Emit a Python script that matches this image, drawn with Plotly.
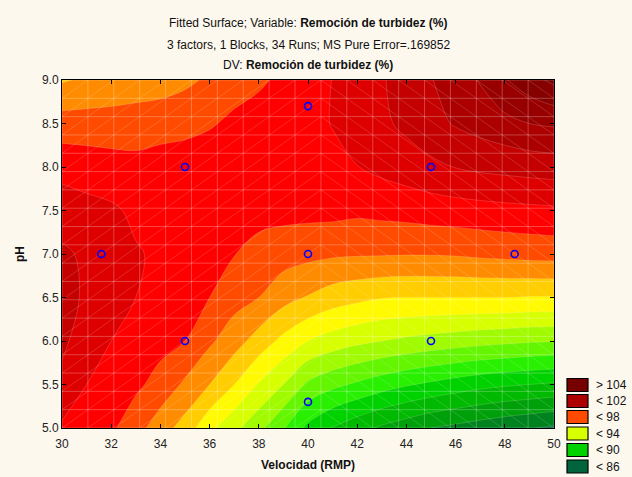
import numpy as np
import plotly.graph_objects as go

# ---------------- data ----------------
velocidad = [30, 31, 32, 33, 34, 35, 36, 37, 38, 39, 40, 41, 42, 43, 44, 45, 46, 47, 48, 49, 50]
ph = [5.0, 5.5, 6.0, 6.5, 7.0, 7.5, 8.0, 8.5, 9.0]
# fitted surface, estimated from the colour bands (one list per pH row, across velocidad)
z_ph50 = [98.85, 98.64, 98.18, 97.4, 96.45, 95.6, 94.25, 93.27, 92.3, 91.1, 89.75,
          88.94, 88.35, 87.83, 87.42, 87.0, 86.75, 86.5, 86.25, 86.05, 85.85]
z_ph55 = [99.75, 99.0, 98.6, 98.2, 97.65, 96.83, 96.0, 95.0, 93.93, 93.0, 91.8,
          91.25, 90.85, 90.45, 90.1, 89.82, 89.55, 89.3, 89.13, 89.0, 88.87]
z_ph60 = [100.2, 99.5, 99.0, 98.6, 98.3, 98.0, 97.17, 96.43, 95.57, 94.73, 94.0,
          93.55, 93.23, 93.0, 92.8, 92.63, 92.47, 92.33, 92.22, 92.1, 92.05]
z_ph65 = [100.35, 99.85, 99.35, 99.0, 98.65, 98.45, 98.0, 97.38, 97.0, 96.35, 95.93,
          95.5, 95.25, 95.05, 95.0, 95.0, 95.0, 95.0, 95.0, 94.95, 94.95]
z_ph70 = [100.15, 99.85, 99.45, 99.08, 98.85, 98.65, 98.4, 98.03, 97.7, 97.45, 97.27,
          97.15, 97.1, 97.08, 97.05, 97.06, 97.1, 97.2, 97.27, 97.35, 97.4]
z_ph75 = [99.55, 99.3, 99.15, 98.82, 98.75, 98.7, 98.65, 98.45, 98.3, 98.3, 98.3,
          98.3, 98.2, 98.28, 98.36, 98.48, 98.56, 98.64, 98.72, 98.77, 98.83]
z_ph80 = [98.65, 98.54, 98.4, 98.3, 98.45, 98.5, 98.6, 98.6, 98.55, 98.6, 98.65,
          98.75, 98.98, 99.25, 99.5, 99.78, 100.03, 100.2, 100.3, 100.4, 100.48]
z_ph85 = [97.45, 97.44, 97.45, 97.5, 97.58, 97.7, 97.9, 98.2, 98.4, 98.55, 98.7,
          99.04, 99.42, 99.81, 100.23, 100.68, 101.09, 101.39, 101.7, 102.0, 102.13]
z_ph90 = [95.9, 96.15, 96.3, 96.45, 96.55, 96.8, 97.15, 97.6, 97.85, 98.2, 98.6,
          99.02, 99.47, 99.91, 100.42, 100.95, 101.5, 102.08, 102.92, 103.6, 104.25]

# design points
run_vel = [31.6, 35, 35, 40, 40, 40, 45, 45, 48.4]
run_ph = [7.0, 6.0, 8.0, 5.3, 7.0, 8.7, 6.0, 8.0, 7.0]

# contour levels and band colours (band below first level ... band above last level)
level_start, level_end, level_step = 86, 104, 1
band_colors = [
    "rgb(0,100,60)", "rgb(0,130,30)", "rgb(0,160,10)", "rgb(0,185,0)",
    "rgb(0,210,0)", "rgb(40,240,0)", "rgb(100,245,0)", "rgb(160,250,0)",
    "rgb(215,255,0)", "rgb(255,250,0)", "rgb(255,205,0)", "rgb(255,140,0)",
    "rgb(255,75,0)", "rgb(255,0,0)", "rgb(222,0,0)", "rgb(196,0,0)",
    "rgb(172,0,0)", "rgb(152,0,0)", "rgb(135,0,0)", "rgb(118,0,0)",
]
legend_labels = ["> 104", "< 102", "< 98", "< 94", "< 90", "< 86"]
legend_colors = ["rgb(118,0,0)", "rgb(172,0,0)", "rgb(255,75,0)",
                 "rgb(215,255,0)", "rgb(0,210,0)", "rgb(0,100,60)"]

x_ticks = [30, 32, 34, 36, 38, 40, 42, 44, 46, 48, 50]
y_ticks = [5.0, 5.5, 6.0, 6.5, 7.0, 7.5, 8.0, 8.5, 9.0]

# ---------------- figure ----------------
FONT = "Arial, 'Liberation Sans', sans-serif"
BG = "#fdf8ee"

z = [z_ph50, z_ph55, z_ph60, z_ph65, z_ph70, z_ph75, z_ph80, z_ph85, z_ph90]
n = len(band_colors)
colorscale = [[i / (n - 1), c] for i, c in enumerate(band_colors)]

fig = go.Figure()
fig.add_trace(go.Contour(
    x=velocidad, y=ph, z=z,
    autocontour=False,
    contours=dict(start=level_start, end=level_end, size=level_step, coloring="fill"),
    colorscale=colorscale, showscale=False,
    line=dict(width=0.6, color="rgba(255,235,235,0.3)", smoothing=1.0),
    hoverinfo="skip",
))

# light surface mesh drawn over the map (styling only)
xmin, xmax, ymin, ymax = 30.0, 50.0, 5.0, 9.0
ncell = 19
dx = (xmax - xmin) / ncell
dy = (ymax - ymin) / ncell
slope = dy / dx
xsplit = xmin + 10 * dx
gx, gy = [], []
for i in range(ncell + 1):
    xv = xmin + i * dx
    gx += [xv, xv, None]; gy += [ymin, ymax, None]
    yv = ymin + i * dy
    gx += [xmin, xmax, None]; gy += [yv, yv, None]
dgx, dgy = [], []
for m in range(-ncell - 1, 2 * ncell + 2):
    c = xmin + m * dx
    span = (ymax - ymin) / slope
    # "/" lines on the left part
    a, b = max(xmin, c), min(xsplit, c + span)
    if b > a + 1e-9:
        dgx += [a, b, None]; dgy += [ymin + slope * (a - c), ymin + slope * (b - c), None]
    # "\" lines on the right part
    a, b = max(xsplit, c), min(xmax, c + span)
    if b > a + 1e-9:
        dgx += [a, b, None]; dgy += [ymax - slope * (a - c), ymax - slope * (b - c), None]

fig.add_trace(go.Scatter(x=gx, y=gy, mode="lines",
                         line=dict(color="rgba(255,255,255,0.26)", width=1),
                         hoverinfo="skip", showlegend=False))
fig.add_trace(go.Scatter(x=dgx, y=dgy, mode="lines",
                         line=dict(color="rgba(255,255,255,0.2)", width=0.8),
                         hoverinfo="skip", showlegend=False))

fig.add_trace(go.Scatter(
    x=run_vel, y=run_ph, mode="markers",
    marker=dict(symbol="circle-open", size=7, color="#0000ff", line=dict(width=1.6, color="#0000ff")),
    hoverinfo="skip", showlegend=False,
))

fig.update_xaxes(
    range=[30, 50], tickvals=x_ticks, ticktext=[str(v) for v in x_ticks],
    ticks="inside", ticklen=4, tickcolor="#000", mirror="ticks", ticklabelstandoff=5,
    showline=True, linecolor="#000", linewidth=1, showgrid=False, zeroline=False,
    tickfont=dict(family=FONT, size=12, color="#222"),
)
fig.update_yaxes(
    range=[5, 9], tickvals=y_ticks, ticktext=[f"{v:.1f}" for v in y_ticks],
    ticks="inside", ticklen=4, tickcolor="#000", mirror="ticks",
    showline=True, linecolor="#000", linewidth=1, showgrid=False, zeroline=False,
    tickfont=dict(family=FONT, size=12, color="#222"),
)

W, H = 632, 477
L, R, T, B = 62, 78, 80, 49
pw, ph_ = W - L - R, H - T - B

def px2paper_x(px):
    return (px - L) / pw

def py2paper_y(py):
    return (H - B - py) / ph_

annotations = []
title_lines = [
    "Fitted Surface; Variable: <b>Remoción de turbidez (%)</b>",
    "3 factors, 1 Blocks, 34 Runs; MS Pure Error=.169852",
    "DV: <b>Remoción de turbidez (%)</b>",
]
for txt, py in zip(title_lines, [23, 45, 65]):
    annotations.append(dict(text=txt, x=0.5, y=py2paper_y(py), xref="paper", yref="paper",
                            xanchor="center", yanchor="middle", showarrow=False,
                            font=dict(family=FONT, size=12, color="#111")))
annotations.append(dict(text="<b>Velocidad (RMP)</b>", x=0.5, y=py2paper_y(465), xref="paper", yref="paper",
                        xanchor="center", yanchor="middle", showarrow=False,
                        font=dict(family=FONT, size=12, color="#111")))
annotations.append(dict(text="<b>pH</b>", x=px2paper_x(20), y=py2paper_y(254), xref="paper", yref="paper",
                        xanchor="center", yanchor="middle", showarrow=False, textangle=-90,
                        font=dict(family=FONT, size=12, color="#111")))

shapes = []
row_centers = [385, 401, 417, 433.5, 450, 466.5]
for lab, col, cy in zip(legend_labels, legend_colors, row_centers):
    shapes.append(dict(type="rect", xref="paper", yref="paper",
                       x0=px2paper_x(567), x1=px2paper_x(588),
                       y0=py2paper_y(cy + 6.5), y1=py2paper_y(cy - 6.5),
                       fillcolor=col, line=dict(color="#000", width=1.2)))
    annotations.append(dict(text=lab, x=px2paper_x(594), y=py2paper_y(cy), xref="paper", yref="paper",
                            xanchor="left", yanchor="middle", showarrow=False,
                            font=dict(family=FONT, size=12, color="#111")))

fig.update_layout(
    width=W, height=H, margin=dict(l=L, r=R, t=T, b=B),
    paper_bgcolor=BG, plot_bgcolor=BG,
    showlegend=False, annotations=annotations, shapes=shapes,
    font=dict(family=FONT, size=12),
)

fig.write_html("out.html")
